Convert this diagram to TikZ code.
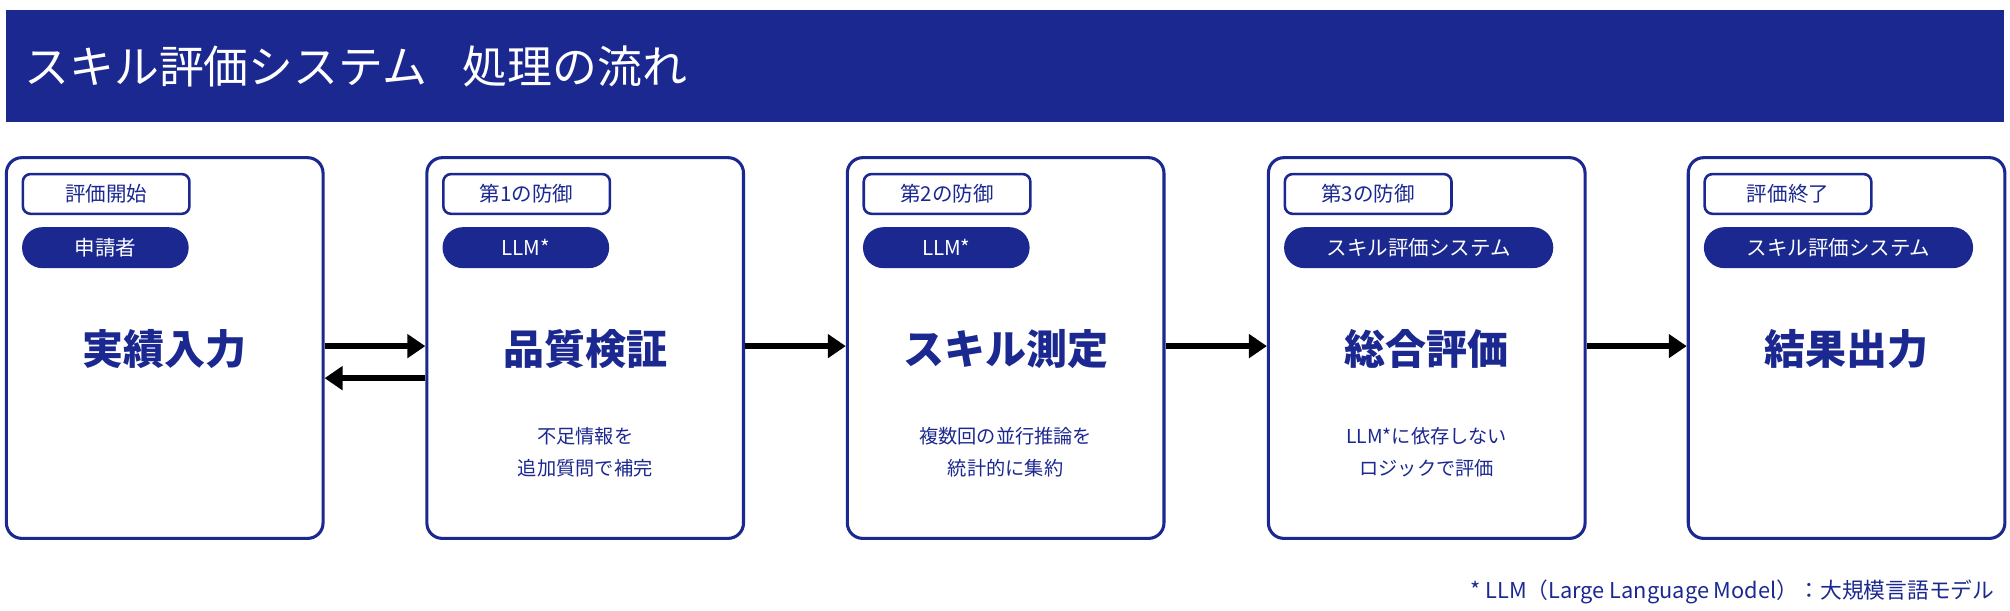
\documentclass[tikz,border=0pt]{standalone}
\usepackage{fontspec}
\setmainfont{Noto Sans CJK JP}
\usetikzlibrary{arrows.meta}
\definecolor{navy}{HTML}{1B2890}
\begin{document}
\begin{tikzpicture}[x=0.5pt,y=-0.5pt,
  box/.style={draw=navy,line width=1.2pt,rounded corners=6pt,minimum width=123.5pt,minimum height=148.5pt,fill=white},
  tag/.style={draw=navy,line width=1pt,rounded corners=3pt,minimum width=65pt,minimum height=15.5pt,font=\fontsize{8}{9}\selectfont,text=navy,inner sep=0pt},
  pill/.style={fill=navy,rounded corners=8pt,minimum width=65pt,minimum height=16pt,font=\fontsize{8}{9}\selectfont,text=white,inner sep=0pt},
  wpill/.style={pill,minimum width=105pt},
  main/.style={font=\fontsize{16}{18}\selectfont\bfseries,text=navy},
  desc/.style={font=\fontsize{7.5}{12.5}\selectfont,text=navy,align=center},
  arr/.style={line width=2.5pt,-{Triangle[length=7pt,width=9pt]}}]
\useasboundingbox (0,0) rectangle (1568,476);
\fill[navy] (5,8) rectangle (1563,95);
\node[anchor=west,text=white,font=\fontsize{17.5}{20}\selectfont] (title) at (12,52) {スキル評価システム\hspace{0.8em}処理の流れ};
\foreach \i/\x in {1/128.5,2/456.5,3/784.5,4/1113,5/1440.5}{
  \node[box] (b\i) at (\x,271.5) {};
}
\node[tag,anchor=north west] (t1) at ([xshift=6.5pt,yshift=-6.5pt]b1.north west) {評価開始};
\node[tag,anchor=north west] (t2) at ([xshift=6.5pt,yshift=-6.5pt]b2.north west) {第1の防御};
\node[tag,anchor=north west] (t3) at ([xshift=6.5pt,yshift=-6.5pt]b3.north west) {第2の防御};
\node[tag,anchor=north west] (t4) at ([xshift=6.5pt,yshift=-6.5pt]b4.north west) {第3の防御};
\node[tag,anchor=north west] (t5) at ([xshift=6.5pt,yshift=-6.5pt]b5.north west) {評価終了};
\node[pill,anchor=north west] (p1) at ([yshift=-4.5pt]t1.south west) {申請者};
\node[pill,anchor=north west] (p2) at ([yshift=-4.5pt]t2.south west) {LLM*};
\node[pill,anchor=north west] (p3) at ([yshift=-4.5pt]t3.south west) {LLM*};
\node[wpill,anchor=north west] (p4) at ([yshift=-4.5pt]t4.south west) {スキル評価システム};
\node[wpill,anchor=north west] (p5) at ([yshift=-4.5pt]t5.south west) {スキル評価システム};
\node[main] (m1) at (128.5,272) {実績入力};
\node[main] (m2) at (456.5,272) {品質検証};
\node[main] (m3) at (784.5,272) {スキル測定};
\node[main] (m4) at (1113,272) {総合評価};
\node[main] (m5) at (1440.5,272) {結果出力};
\node[desc] (d2) at (456.5,353) {不足情報を\\追加質問で補完};
\node[desc] (d3) at (784.5,353) {複数回の並行推論を\\統計的に集約};
\node[desc] (d4) at (1113,353) {LLM*に依存しない\\ロジックで評価};
\draw[arr] ([yshift=0.75pt]b1.east) -- ([yshift=0.75pt]b2.west);
\draw[arr] ([yshift=-11.75pt]b2.west) -- ([yshift=-11.75pt]b1.east);
\draw[arr] ([yshift=0.75pt]b2.east) -- ([yshift=0.75pt]b3.west);
\draw[arr] ([yshift=0.75pt]b3.east) -- ([yshift=0.75pt]b4.west);
\draw[arr] ([yshift=0.75pt]b4.east) -- ([yshift=0.75pt]b5.west);
\node[anchor=east,text=navy,font=\fontsize{8.5}{10}\selectfont] (fn) at (1563,462) {* LLM（Large Language Model）：大規模言語モデル};
\end{tikzpicture}
\end{document}
